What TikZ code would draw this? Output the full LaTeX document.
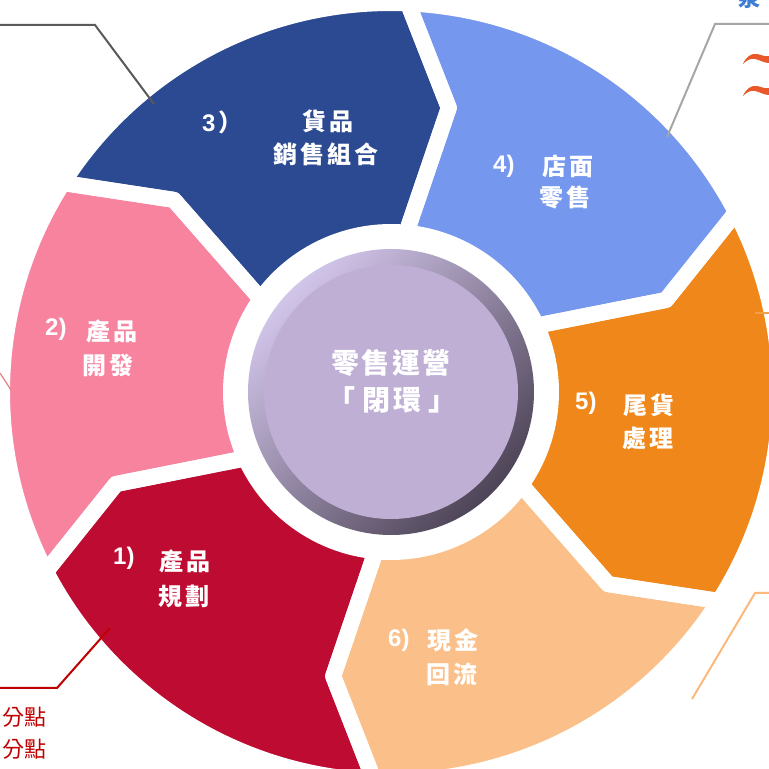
\documentclass[tikz,border=0pt]{standalone}
\usepackage{fontspec}
\newfontfamily\cjk{Noto Sans CJK TC}
\newfontfamily\numf{Liberation Sans}
\definecolor{cRed}{HTML}{BE0B31}
\definecolor{cPink}{HTML}{F7839F}
\definecolor{cBlue}{HTML}{2B4A92}
\definecolor{cLBlue}{HTML}{7597EE}
\definecolor{cOrange}{HTML}{F0871A}
\definecolor{cLOrange}{HTML}{FBC08A}
\definecolor{ringLight}{HTML}{D2C5EA}
\definecolor{ringDark}{HTML}{4E4457}
\definecolor{diskFill}{HTML}{BFAFD5}
\definecolor{calloutRed}{HTML}{C00000}
\definecolor{swoosh}{HTML}{E8582A}
\definecolor{topBlue}{HTML}{3C7DD8}
\newcommand\lsp{\hspace{3pt}}
\newcommand\csp{\hspace{2.5pt}}
\begin{document}
\begin{tikzpicture}[x=1pt,y=1pt,
  lbl/.style={inner sep=0pt, text=white, font=\cjk\bfseries\fontsize{24}{26}\selectfont},
  num/.style={inner sep=0pt, anchor=west, text=white, font=\numf\bfseries\fontsize{24}{26}\selectfont},
  ctr/.style={inner sep=0pt, text=white, font=\cjk\bfseries\fontsize{28}{30}\selectfont},
  seggap/.style={draw=white, line width=16pt, line join=round},
  callout/.style={line width=2pt}]
\useasboundingbox (0,0) rectangle (769,769);
\clip (0,0) rectangle (769,769);
\fill[white] (0,0) rectangle (769,769);
% ring segments
\begin{scope}[shift={(391,377)}]
\foreach \s/\e/\c in {258.5/198.5/cRed, 198.5/138.5/cPink, 138.5/78.5/cBlue, 78.5/18.5/cLBlue, 18.5/-41.5/cOrange, -41.5/-101.5/cLOrange}{
  \pgfmathsetmacro\ao{\s+9}\pgfmathsetmacro\bo{\e+9}\pgfmathsetmacro\bi{\e+6}\pgfmathsetmacro\ai{\s+6}
  \fill[\c] (\ao:389pt) arc[start angle=\ao, end angle=\bo, radius=389pt] -- (\e:290pt) -- (\bi:160pt) arc[start angle=\bi, end angle=\ai, radius=160pt] -- (\s:290pt) -- cycle;
}
\foreach \s/\e in {258.5/198.5, 198.5/138.5, 138.5/78.5, 78.5/18.5, 18.5/-41.5, -41.5/-101.5}{
  \pgfmathsetmacro\ao{\s+9}\pgfmathsetmacro\bo{\e+9}\pgfmathsetmacro\bi{\e+6}\pgfmathsetmacro\ai{\s+6}
  \draw[seggap] (\ao:389pt) arc[start angle=\ao, end angle=\bo, radius=389pt] -- (\e:290pt) -- (\bi:160pt) arc[start angle=\bi, end angle=\ai, radius=160pt] -- (\s:290pt) -- cycle;
}
% centre circle
\shade[top color=ringLight, bottom color=ringDark, shading angle=45] (0,0) circle[radius=143pt];
\fill[diskFill] (0,0) circle[radius=127pt];
\end{scope}
\node[ctr] (c1) at (391,406) {零\csp 售\csp 運\csp 營};
\node[ctr] (c2) at (392,369) {「\hspace{7pt}閉\csp 環\hspace{7pt}」};
% segment labels
\node[num] (n1) at (113,211) {1)};
\node[lbl] (t1a) at (185,208) {產\lsp 品};
\node[lbl] (t1b) at (184,173) {規\lsp 劃};
\node[num] (n2) at (45,440) {2)};
\node[lbl] (t2a) at (112,438) {產\lsp 品};
\node[lbl] (t2b) at (108,404) {開\lsp 發};
\node[num] (n3) at (202,647) {3\kern3pt{\cjk ）}};
\node[lbl] (t3a) at (328,648) {貨\lsp 品};
\node[lbl] (t3b) at (326,615) {銷\lsp 售\lsp 組\lsp 合};
\node[num] (n4) at (493,603) {4)};
\node[lbl] (t4a) at (568,603) {店\lsp 面};
\node[lbl] (t4b) at (565,572) {零\lsp 售};
\node[num] (n5) at (575,366) {5)};
\node[lbl] (t5a) at (649,364) {尾\lsp 貨};
\node[lbl] (t5b) at (648,331) {處\lsp 理};
\node[num] (n6) at (388,129) {6)};
\node[lbl] (t6a) at (453,129) {現\lsp 金};
\node[lbl] (t6b) at (452,95) {回\lsp 流};
% callout lines cut by the frame
\coordinate (tl0) at (0,744); \coordinate (tl1) at (95,744); \coordinate (tl2) at (154,665);
\draw[callout, draw=black!65] (tl0) -- (tl1) -- (tl2);
\coordinate (tr0) at (769,745); \coordinate (tr1) at (715,745); \coordinate (tr2) at (667,632);
\draw[callout, draw=black!35] (tr0) -- (tr1) -- (tr2);
\coordinate (bl0) at (0,81); \coordinate (bl1) at (57,81); \coordinate (bl2) at (110,141);
\draw[callout, draw=calloutRed] (bl0) -- (bl1) -- (bl2);
\coordinate (br0) at (769,176); \coordinate (br1) at (755,176); \coordinate (br2) at (692,70);
\draw[callout, draw=cLOrange!90!orange] (br0) -- (br1) -- (br2);
\coordinate (l0) at (0,396); \coordinate (l1) at (11,379);
\draw[line width=1.2pt, draw=cPink!70!brown] (l0) -- (l1);
\coordinate (r0) at (769,456); \coordinate (r1) at (755,456);
\draw[callout, draw=cOrange!80!white] (r0) -- (r1);
% partial texts and bullets at the edges
\node[inner sep=0pt, anchor=east, text=calloutRed, font=\cjk\fontsize{22}{24}\selectfont] (p1) at (47,52) {分點};
\node[inner sep=0pt, anchor=east, text=calloutRed, font=\cjk\fontsize{22}{24}\selectfont] (p2) at (47,20) {分點};
\node[inner sep=0pt, text=topBlue, font=\cjk\bfseries\fontsize{22}{24}\selectfont] (p3) at (749,771) {泉};
\foreach \b in {705,673}{
  \fill[swoosh] (743,\b) .. controls (746,\b+7) and (751,\b+11) .. (757,\b+10) .. controls (762,\b+9) and (765,\b+7) .. (769,\b+8) -- (769,\b+1) .. controls (764,\b+1) and (760,\b+4) .. (755,\b+5) .. controls (750,\b+6) and (746,\b+3) .. cycle;
}
\end{tikzpicture}
\end{document}
